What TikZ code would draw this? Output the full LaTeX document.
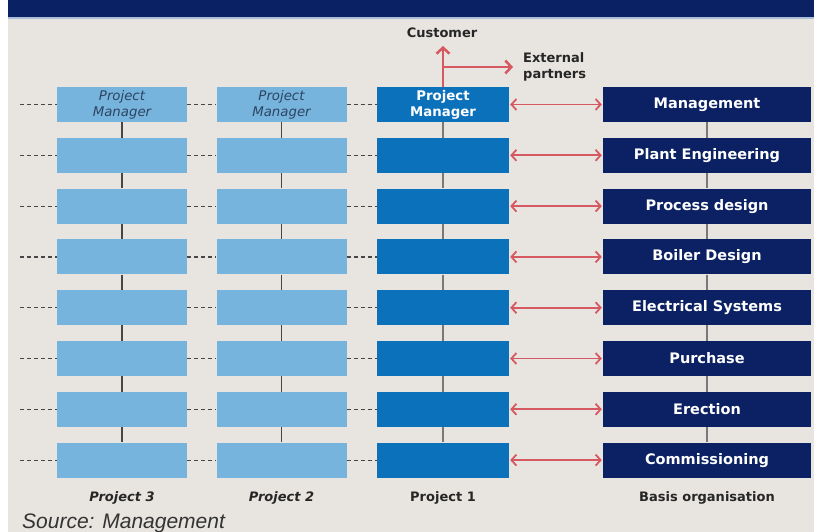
\documentclass[tikz,border=0pt]{standalone}
\usepackage{fontspec}
\setmainfont{DejaVu Sans}
\newfontfamily\arialf{Liberation Sans}
\usetikzlibrary{arrows.meta}
\definecolor{bg}{RGB}{232,229,224}
\definecolor{banner}{RGB}{10,34,99}
\definecolor{bannerline}{RGB}{170,190,215}
\definecolor{lightb}{RGB}{118,180,222}
\definecolor{midb}{RGB}{12,113,187}
\definecolor{navy}{RGB}{11,33,100}
\definecolor{ltext}{RGB}{45,68,95}
\definecolor{arrred}{RGB}{214,88,96}
\definecolor{conn}{RGB}{70,70,70}
\definecolor{conn2}{RGB}{120,120,120}
\tikzset{
  basefont/.style={font=\fontsize{13.3}{16}\selectfont},
  lbox/.style={fill=lightb, minimum width=130pt, minimum height=35pt, inner sep=0pt, basefont, text=ltext, align=center},
  mbox/.style={fill=midb, minimum width=132pt, minimum height=35pt, inner sep=0pt, basefont, text=white, align=center},
  nbox/.style={fill=navy, minimum width=208pt, minimum height=35pt, inner sep=0pt, text=white, font=\fontsize{14.5}{17}\selectfont\bfseries},
  vline/.style={draw=conn, line width=1.3pt},
  vline2/.style={draw=conn2, line width=1.3pt},
  dashline/.style={draw=conn, line width=1.2pt, dash pattern=on 4pt off 3pt},
  redarr/.style={draw=arrred, line width=1.8pt, {Straight Barb[length=5pt,width=11pt]}-{Straight Barb[length=5pt,width=11pt]}, shorten <=1pt, shorten >=1pt},
  redone/.style={draw=arrred, line width=2.5pt, -{Straight Barb[length=6pt,width=13pt]}},
  collab/.style={font=\fontsize{13}{16}\selectfont\bfseries, text=black!85, inner sep=0pt}
}
\begin{document}
\begin{tikzpicture}[x=1pt,y=-1pt]
\useasboundingbox (0,0) rectangle (814,532);
\fill[white] (0,0) rectangle (814,532);
\fill[bg] (8,0) rectangle (814,532);
\fill[banner] (8,0) rectangle (814,17);
\fill[bannerline] (8,17) rectangle (814,19);

\foreach \i/\lab in {1/Management,2/Plant Engineering,3/Process design,4/Boiler Design,5/Electrical Systems,6/Purchase,7/Erection,8/Commissioning}{
  \pgfmathsetmacro\yy{104.5+(\i-1)*50.8}
  \node[lbox] (p3-\i) at (122,\yy) {};
  \node[lbox] (p2-\i) at (281.5,\yy) {};
  \node[mbox] (p1-\i) at (443,\yy) {};
  \node[nbox] (b-\i) at (707,\yy) {\lab};
  \coordinate (l-\i) at (20,\yy);
  \draw[dashline] (l-\i) -- (p3-\i.west);
  \draw[dashline] (p3-\i.east) -- (p2-\i.west);
  \draw[dashline] (p2-\i.east) -- (p1-\i.west);
  \draw[redarr] (p1-\i.east) -- (b-\i.west);
}
\node[lbox] at (p3-1) {\itshape Project\\\itshape Manager};
\node[lbox] at (p2-1) {\itshape Project\\\itshape Manager};
\node[mbox] at (p1-1) {\bfseries Project\\\bfseries Manager};

\foreach \i/\j in {1/2,2/3,3/4,4/5,5/6,6/7,7/8}{
  \draw[vline] (p3-\i.south) -- (p3-\j.north);
  \draw[vline] (p2-\i.south) -- (p2-\j.north);
  \draw[vline2] (p1-\i.south) -- (p1-\j.north);
  \draw[vline2] (b-\i.south) -- (b-\j.north);
}

% customer / external partners
\node[collab] (cust) at (442,33) {Customer};
\coordinate (ctip) at (443,46);
\draw[redone] (p1-1.north) -- (ctip);
\coordinate (branch) at (443,67);
\coordinate (etip) at (513,67);
\draw[redone] (branch) -- (etip);
\node[collab, anchor=west, align=left] (ext) at (523,66.5) {External\\partners};

% column labels
\node[collab] (lab3) at (122,498) {\itshape Project 3};
\node[collab] (lab2) at (281.5,498) {\itshape Project 2};
\node[collab] (lab1) at (443,498) {Project 1};
\node[collab] (labb) at (707,498) {Basis organisation};

\node[anchor=west, inner sep=0pt, text=black!80] (src) at (22,523) {\arialf\itshape\fontsize{21}{24}\selectfont Source: Management};
\end{tikzpicture}
\end{document}
